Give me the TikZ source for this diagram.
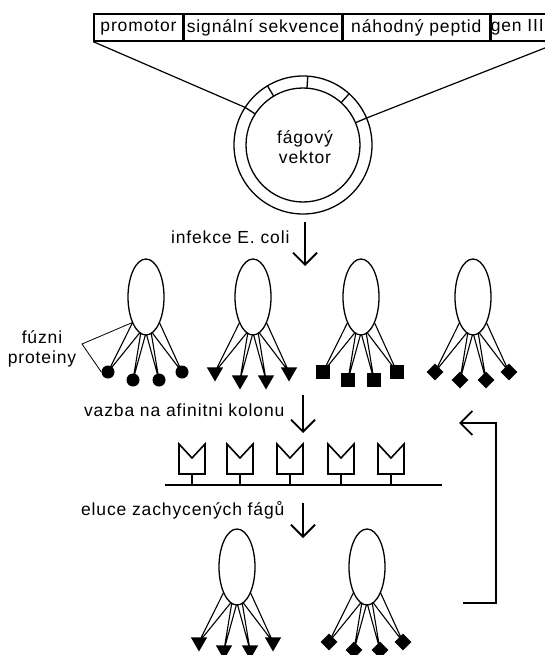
\documentclass[tikz,border=0pt]{standalone}
\usepackage{fontspec}
\setmainfont{Liberation Sans}[LetterSpace=5]
\usetikzlibrary{positioning,shapes.geometric,arrows.meta}

\tikzset{
  cell/.style={draw, line width=1.4pt, minimum height=27pt, inner sep=0pt},
  ring/.style={line width=1.3pt},
  capsid/.style={line width=1.3pt},
  leg/.style={line width=1.1pt},
  flow/.style={line width=1.9pt, -{Straight Barb[length=12pt,width=24pt]}},
  column/.style={line width=1.6pt},
  dot/.style={circle, fill, inner sep=0pt, minimum size=13pt},
  tri/.style={regular polygon, regular polygon sides=3, shape border rotate=180, fill, inner sep=0pt, minimum size=19pt},
  sq/.style={rectangle, fill, inner sep=0pt, minimum size=14pt},
  dia/.style={diamond, fill, inner sep=0pt, minimum size=17pt},
  % inside the pic the y axis points up again
  pics/phage/.style={code={
    \draw[capsid] (0,0) ellipse [x radius=18, y radius=38];
    \foreach \hx/\hy/\ta/\tb [count=\i] in {-38/75/222/250, -13/83/253/268, 13/83/272/287, 36/75/290/318}{
      \coordinate (-a\i) at (\ta:18 and 38);
      \coordinate (-b\i) at (\tb:18 and 38);
      \node[#1] (-h\i) at (\hx,-\hy) {};
      \draw[leg] (-a\i) -- (-h\i.center) -- (-b\i);
    }
  }},
}

\begin{document}
\begin{tikzpicture}[x=1pt,y=1pt,yscale=-1,font=\fontsize{17.5}{20}\selectfont]
\useasboundingbox (0,0) rectangle (545,655);
\clip (0,0) rectangle (545,655);

% construct
\node[cell, minimum width=89pt] (prom) at (138.5,27.5) {promotor};
\node[cell, minimum width=157pt, right=0pt of prom] (sig) {signální sekvence};
\node[cell, minimum width=147pt, right=0pt of sig] (pep) {náhodný peptid};
\node[cell, minimum width=69pt, right=0pt of pep] (gen) {};
\node[anchor=east, inner xsep=0pt] (gentxt) at (544,27.5) {gen III};

%Shape: Circle
\coordinate (vec) at (303,145);
\draw[ring] (vec) circle [radius=69];
\draw[ring] (vec) circle [radius=57];
\foreach \a in {-147,-121,-86,-48,-23}
  \draw[ring] ([shift={(\a:57)}]vec) -- ([shift={(\a:69)}]vec);
\node[align=center] (vectxt) at (305,147) {fágový\\vektor};

%Straight Lines
\draw[line width=1.2pt] (prom.south west) -- ([shift={(-147:69)}]vec);
\draw[line width=1.2pt] (gen.south east) -- ([shift={(-23:69)}]vec);

% infection
\node[anchor=east] (inf) at (293,237) {infekce E. coli};
\coordinate (infA) at (305,222);
\coordinate (infB) at (305,266);
\draw[flow] (infA) -- (infB);

% phage library
\pic (p1) at (146,297) {phage=dot};
\pic (p2) at (253,297) {phage=tri};
\pic (p3) at (361,297) {phage=sq};
\pic (p4) at (473,297) {phage=dia};

% Text Node
\node[align=center] (fuz) at (42,349) {fúzni\\proteiny};
\coordinate (fuzA) at (82,344);
\draw[line width=0.8pt] (p1-a1) -- (fuzA) -- (p1-h1.west);

% binding
\node[anchor=east] (vaz) at (288,410) {vazba na afinitni kolonu};
\coordinate (vazA) at (303,395);
\coordinate (vazB) at (303,433);
\draw[flow] (vazA) -- (vazB);

% affinity column
\coordinate (colL) at (165,485);
\coordinate (colR) at (442,485);
\draw[column] (colL) -- (colR);
\foreach \x in {192,240,290,341,391}{
  \draw[column] (\x-13,444) -- (\x,458) -- (\x+13,444) -- (\x+13,474) -- (\x-13,474) -- cycle;
  \draw[column] (\x,474) -- (\x,485);
}

% elution
\node[anchor=east] (elu) at (288,510) {eluce zachycených fágů};
\coordinate (eluA) at (303,503);
\coordinate (eluB) at (303,538);
\draw[flow] (eluA) -- (eluB);

\pic (q1) at (237,567) {phage=tri};
\pic (q2) at (367,567) {phage=dia};

% another round
\coordinate (loopA) at (463,603);
\coordinate (loopC) at (496,423);
\coordinate (loopB) at (459,423);
\draw[flow] (loopA) -| (loopC) -- (loopB);

\end{tikzpicture}
\end{document}
